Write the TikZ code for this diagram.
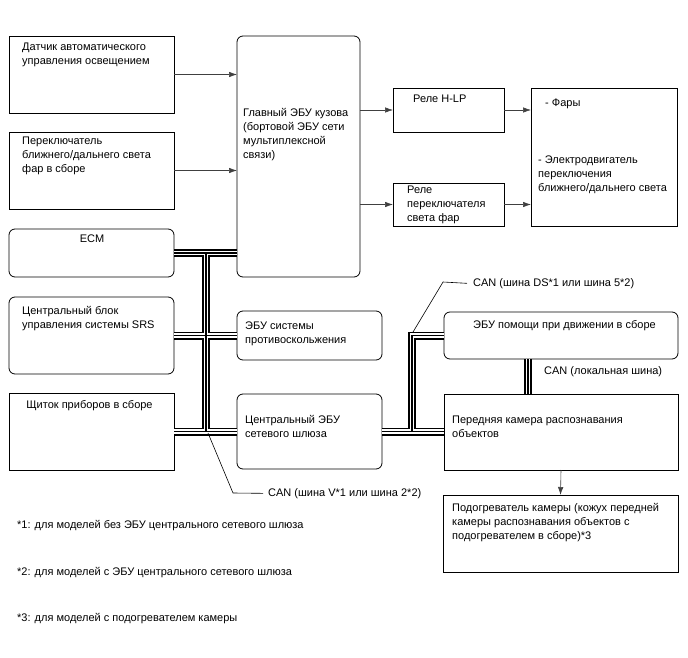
\documentclass[tikz,border=0pt]{standalone}
\usepackage{fontspec}
\setmainfont{Liberation Sans}
\usetikzlibrary{arrows.meta}

\tikzset{
  blok/.style={draw, line width=0.8pt, inner sep=0pt, outer sep=0pt},
  rblok/.style={blok, rounded corners=6pt},
  tekst/.style={anchor=north west, inner sep=0pt, align=left},
  pijl/.style={line width=0.6pt, draw=black!75, -{Latex[length=8pt,width=5.5pt]}},
  leider/.style={line width=0.6pt},
  busA/.style={line width=8pt, black},
  busB/.style={line width=4.6pt, white},
  busC/.style={line width=1.3pt, black}
}

\begin{document}
\begin{tikzpicture}[x=1pt, y=-1pt, font=\fontsize{11}{14}\selectfont]
        \useasboundingbox (0,0) rectangle (688,658);

        % Блоки слева
        \node[blok, minimum width=165pt, minimum height=77pt] (sensor) at (91.5,74.5) {};
        \node[blok, minimum width=165pt, minimum height=77pt] (switch) at (91.5,170.5) {};
        \node[rblok, minimum width=165pt, minimum height=48pt] (ecm) at (91.5,253) {};
        \node[rblok, minimum width=165pt, minimum height=77pt] (srs) at (91.5,335.5) {};
        \node[blok, minimum width=165pt, minimum height=77pt] (dash) at (91.5,431.5) {};

        % Блоки в середине
        \node[rblok, minimum width=123pt, minimum height=241pt] (main) at (298.5,156.5) {};
        \node[rblok, minimum width=145pt, minimum height=49pt] (abs) at (309.5,335.5) {};
        \node[rblok, minimum width=145pt, minimum height=75pt] (gw) at (309.5,431.5) {};

        % Реле и нагрузка
        \node[blok, minimum width=111pt, minimum height=44pt] (hlp) at (448.5,110) {};
        \node[blok, minimum width=111pt, minimum height=43pt] (rly) at (448.5,204.5) {};
        \node[blok, minimum width=146pt, minimum height=138pt] (lamps) at (604,157) {};

        % Блоки справа
        \node[rblok, minimum width=234pt, minimum height=47pt] (assist) at (561,335.5) {};
        \node[blok, minimum width=234pt, minimum height=76pt] (cam) at (561,432) {};
        \node[blok, minimum width=235pt, minimum height=77pt] (heat) at (560.5,533.5) {};

        % Тексты в блоках
        \node[tekst] (sensorT) at (22,43) {Датчик автоматического\\управления освещением};
        \node[tekst] (switchT) at (22,137) {Переключатель\\ближнего/дальнего света\\фар в сборе};
        \node[inner sep=0pt, anchor=north] (ecmT) at (92,235) {ECM};
        \node[tekst] (srsT) at (22,306) {Центральный блок\\управления системы SRS};
        \node[inner sep=0pt, anchor=north] (dashT) at (89.5,400) {Щиток приборов в сборе};
        \node[tekst] (mainT) at (243,108) {Главный ЭБУ кузова\\(бортовой ЭБУ сети\\мультиплексной\\связи)};
        \node[tekst] (absT) at (245,322) {ЭБУ системы\\противоскольжения};
        \node[tekst] (gwT) at (245,415) {Центральный ЭБУ\\сетевого шлюза};
        \node[tekst] (hlpT) at (413,95) {Реле H-LP};
        \node[tekst] (rlyT) at (407,186) {Реле\\переключателя\\света фар};
        \node[tekst] (lampsA) at (545,99) {- Фары};
        \node[tekst] (lampsB) at (538,156) {- Электродвигатель\\переключения\\ближнего/дальнего света};
        \node[tekst] (assistT) at (473,320) {ЭБУ помощи при движении в сборе};
        \node[tekst] (camT) at (452,416) {Передняя камера распознавания\\объектов};
        \node[tekst] (heatT) at (452,503) {Подогреватель камеры (кожух передней\\камеры распознавания объектов с\\подогревателем в сборе)*3};

        % Стрелки
        \draw[pijl] (sensor.east) -- (main.west |- sensor.east);
        \draw[pijl] (switch.east) -- (main.west |- switch.east);
        \draw[pijl] (main.east |- hlp.west) -- (hlp.west);
        \draw[pijl] (main.east |- rly.west) -- (rly.west);
        \draw[pijl] (hlp.east) -- (lamps.west |- hlp.east);
        \draw[pijl] (rly.east) -- (lamps.west |- rly.east);
        \draw[pijl] (cam.south) -- (heat.north);

        % Шины CAN
        \coordinate (busL) at (206,0);
        \coordinate (busR) at (412,0);
        \coordinate (busLoc) at (528,0);
        \foreach \laag in {busA,busB,busC} {
            \draw[\laag] (ecm.east) -- (main.west |- ecm.east);
            \draw[\laag] (srs.east) -- (abs.west |- srs.east);
            \draw[\laag] (dash.east) -- (gw.west |- dash.east);
            \draw[\laag] (busL |- ecm.east) -- (busL |- dash.east);
            \draw[\laag] (gw.east) -- (cam.west |- gw.east);
            \draw[\laag] (busR |- gw.east) -- (busR |- assist.west) -- (assist.west);
            \draw[\laag] (busLoc |- assist.south) -- (busLoc |- cam.north);
        }

        % Подписи шин
        \node[tekst] (canDS) at (473,278) {CAN (шина DS*1 или шина 5*2)};
        \node[tekst] (canLoc) at (544,366) {CAN (локальная шина)};
        \node[tekst] (canV) at (268,488) {CAN (шина V*1 или шина 2*2)};
        \coordinate (dsBend) at (443,282);
        \coordinate (dsTip) at (413,332);
        \coordinate (vBend) at (233,493);
        \coordinate (vTip) at (208,433);
        \draw[leider] ([xshift=-6pt]canDS.west) -- (dsBend) -- (dsTip);
        \draw[leider] ([xshift=-5pt]canV.west) -- (vBend) -- (vTip);

        % Примечания
        \node[tekst] (note1) at (17,520) {*1: для моделей без ЭБУ центрального сетевого шлюза};
        \node[tekst] (note2) at (17,567) {*2: для моделей с ЭБУ центрального сетевого шлюза};
        \node[tekst] (note3) at (17,613) {*3: для моделей с подогревателем камеры};
    \end{tikzpicture}
\end{document}
